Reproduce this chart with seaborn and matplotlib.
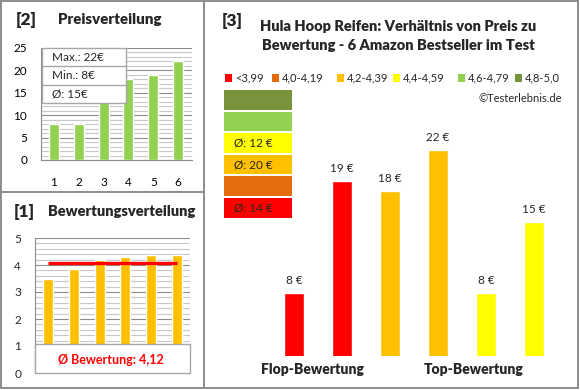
import matplotlib
matplotlib.use("Agg")
import matplotlib.pyplot as plt
import seaborn as sns
import pandas as pd
from matplotlib.patches import Rectangle
from matplotlib.lines import Line2D
from matplotlib.ticker import MultipleLocator

# ---------------- data ----------------
price_products = ["1", "2", "3", "4", "5", "6"]
price_values = [8, 8, 13, 18, 19, 22]
price_stats = ["Max.: 22€", "Min.: 8€", "Ø: 15€"]

rating_products = ["1", "2", "3", "4", "5", "6"]
rating_values = [3.5, 3.87, 4.17, 4.28, 4.38, 4.38]
rating_avg = 4.07
rating_avg_label = "Ø Bewertung: 4,12"

main_products = ["P1", "P2", "P3", "P4", "P5", "P6"]
main_prices = [8, 19, 18, 22, 8, 15]
main_price_labels = ["8 €", "19 €", "18 €", "22 €", "8 €", "15 €"]
main_colors = ["#FF0000", "#FF0000", "#FFC000", "#FFC000", "#FFFF00", "#FFFF00"]
group_labels = ["Flop-Bewertung", "Top-Bewertung"]

legend_labels = ["<3,99", "4,0-4,19", "4,2-4,39", "4,4-4,59", "4,6-4,79", "4,8-5,0"]
legend_colors = ["#FF0000", "#E46C0A", "#FFC000", "#FFFF00", "#92D050", "#77933C"]
# class averages, same order as legend (red ... olive)
class_avg_labels = ["Ø: 14 €", "", "Ø: 20 €", "Ø: 12 €", "", ""]

title_text = "Hula Hoop Reifen: Verhältnis von Preis zu\nBewertung - 6 Amazon Bestseller im Test"

# ---------------- style ----------------
sns.set_style("white")
plt.rcParams["font.family"] = ["Lato", "DejaVu Sans"]

W, H = 580, 390
fig = plt.figure(figsize=(W / 100, H / 100), dpi=100)


def rect(x0, y0, x1, y1):
    return [x0 / W, 1 - y1 / H, (x1 - x0) / W, (y1 - y0) / H]


def ftext(x, y, s, **kw):
    fig.text(x / W, 1 - y / H, s, **kw)


BORDER = "#8C8C8C"
MAJOR = "#8C8C8C"
MINOR = "#C8C8C8"
HEAVY = "heavy"

# ---------------- borders ----------------
fig.add_artist(Rectangle((1 / W, 1 - 388 / H), 577 / W, 387 / H, transform=fig.transFigure,
                         fill=False, edgecolor=BORDER, lw=1.4))
fig.add_artist(Line2D([204 / W, 204 / W], [1 - 1 / H, 1 - 388 / H], transform=fig.transFigure,
                      color=BORDER, lw=1.4))
fig.add_artist(Line2D([1 / W, 204 / W], [1 - 192 / H, 1 - 192 / H], transform=fig.transFigure,
                      color=BORDER, lw=1.4))

# ---------------- panel [2] price distribution ----------------
ax2 = fig.add_axes(rect(41, 48, 192, 160))
df2 = pd.DataFrame({"p": price_products, "v": price_values})
sns.barplot(data=df2, x="p", y="v", color="#92D050", width=0.4, saturation=1, ax=ax2, zorder=3)
ax2.set_xlim(-0.52, 5.56)
ax2.set_ylim(0, 25)
ax2.yaxis.set_major_locator(MultipleLocator(5))
ax2.yaxis.set_minor_locator(MultipleLocator(1))
ax2.grid(axis="y", which="minor", color=MINOR, lw=0.8, zorder=0)
ax2.grid(axis="y", which="major", color=MAJOR, lw=0.8, zorder=0)
for s in ["top", "right"]:
    ax2.spines[s].set_visible(False)
for s in ["left", "bottom"]:
    ax2.spines[s].set_color(MAJOR)
    ax2.spines[s].set_linewidth(0.8)
ax2.set_xlabel("")
ax2.set_ylabel("")
ax2.tick_params(axis="both", which="both", length=0, labelsize=8.5, colors="#000000")
ax2.tick_params(axis="x", pad=12)
ax2.tick_params(axis="y", pad=10)
ax2.patch.set_alpha(0)
ftext(16, 20, "[2]", fontsize=12.5, fontweight=HEAVY, va="center", ha="left")
ftext(58, 20, "Preisverteilung", fontsize=10.8, fontweight=HEAVY, va="center", ha="left")
# stats box
fig.add_artist(Rectangle((42 / W, 1 - 103 / H), 84 / W, 55 / H, transform=fig.transFigure,
                         facecolor="white", edgecolor="#A6A6A6", lw=1.0, zorder=5))
for i, s in enumerate(price_stats):
    yc = 57.5 + i * 18.3
    ftext(52, yc, s, fontsize=8.5, va="center", ha="left", zorder=6)
    if i > 0:
        y = 48 + i * 18.3
        fig.add_artist(Line2D([42 / W, 126 / W], [1 - y / H, 1 - y / H], transform=fig.transFigure,
                              color="#A6A6A6", lw=1.0, zorder=6))

# ---------------- panel [1] rating distribution ----------------
ax1 = fig.add_axes(rect(35, 238, 190, 373))
df1 = pd.DataFrame({"p": rating_products, "v": rating_values})
sns.barplot(data=df1, x="p", y="v", color="#FFC000", width=0.39, saturation=1, ax=ax1, zorder=3)
ax1.plot([0, 5], [rating_avg, rating_avg], color="#FF0000", lw=2.4, zorder=4, solid_capstyle="butt")
ax1.set_xlim(-0.5, 5.5)
ax1.set_ylim(0, 5)
ax1.yaxis.set_major_locator(MultipleLocator(1))
ax1.yaxis.set_minor_locator(MultipleLocator(0.2))
ax1.grid(axis="y", which="minor", color=MINOR, lw=0.8, zorder=0)
ax1.grid(axis="y", which="major", color=MAJOR, lw=0.8, zorder=0)
for s in ["top", "right", "bottom"]:
    ax1.spines[s].set_visible(False)
ax1.spines["left"].set_color(MAJOR)
ax1.spines["left"].set_linewidth(0.8)
ax1.set_xticks([])
ax1.set_xlabel("")
ax1.set_ylabel("")
ax1.tick_params(axis="y", which="major", length=4, color=MAJOR, labelsize=8.5, pad=6)
ax1.tick_params(axis="y", which="minor", length=0)
ax1.patch.set_alpha(0)
ftext(14, 212, "[1]", fontsize=12.5, fontweight=HEAVY, va="center", ha="left")
ftext(48, 212, "Bewertungsverteilung", fontsize=10.5, fontweight=HEAVY, va="center", ha="left")
fig.add_artist(Rectangle((35 / W, 1 - 373 / H), 155 / W, 29 / H, transform=fig.transFigure,
                         facecolor="white", edgecolor="#A6A6A6", lw=1.0, zorder=5))
ftext(111, 360, rating_avg_label, fontsize=9, fontweight="bold", color="#FF0000",
      va="center", ha="center", zorder=6)

# ---------------- panel [3] main chart ----------------
ax3 = fig.add_axes(rect(205, 90, 578, 356))
df3 = pd.DataFrame({"p": main_products, "v": main_prices})
sns.barplot(data=df3, x="p", y="v", hue="p", palette=main_colors, legend=False,
            width=0.417, saturation=1, ax=ax3)
ax3.set_xlim(-1.854, 5.917)
ax3.set_ylim(1.83, 1.83 + 266 / 10.2)
for i, c in enumerate(ax3.containers):
    ax3.bar_label(c, labels=[main_price_labels[i]], padding=5, fontsize=8.5)
ax3.axis("off")

ftext(222, 21, "[3]", fontsize=12.5, fontweight=HEAVY, va="center", ha="left")
ftext(398, 36, title_text, fontsize=10.5, fontweight=HEAVY, va="center", ha="center",
      linespacing=1.6)

legend_x = [225, 272, 337, 393, 458, 515]
for x, lab, col in zip(legend_x, legend_labels, legend_colors):
    fig.add_artist(Rectangle((x / W, 1 - 81.5 / H), 7 / W, 7 / H, transform=fig.transFigure,
                             facecolor=col, edgecolor="none"))
    ftext(x + 10, 78, lab, fontsize=8, va="center", ha="left")
ftext(562, 98, "©Testerlebnis.de", fontsize=8, va="center", ha="right")

# class blocks (top: olive ... bottom: red)
for i, (col, lab) in enumerate(zip(legend_colors[::-1], class_avg_labels[::-1])):
    top = 90 + i * 21.6
    fig.add_artist(Rectangle((224 / W, 1 - (top + 19.5) / H), 68 / W, 19.5 / H,
                             transform=fig.transFigure, facecolor=col, edgecolor="none"))
    if lab:
        ftext(234, top + 10, lab, fontsize=8.5, va="center", ha="left")

ftext(312, 369, group_labels[0], fontsize=10, fontweight=HEAVY, va="center", ha="center")
ftext(474, 369, group_labels[1], fontsize=10, fontweight=HEAVY, va="center", ha="center")

fig.savefig("out.png", dpi=100)
